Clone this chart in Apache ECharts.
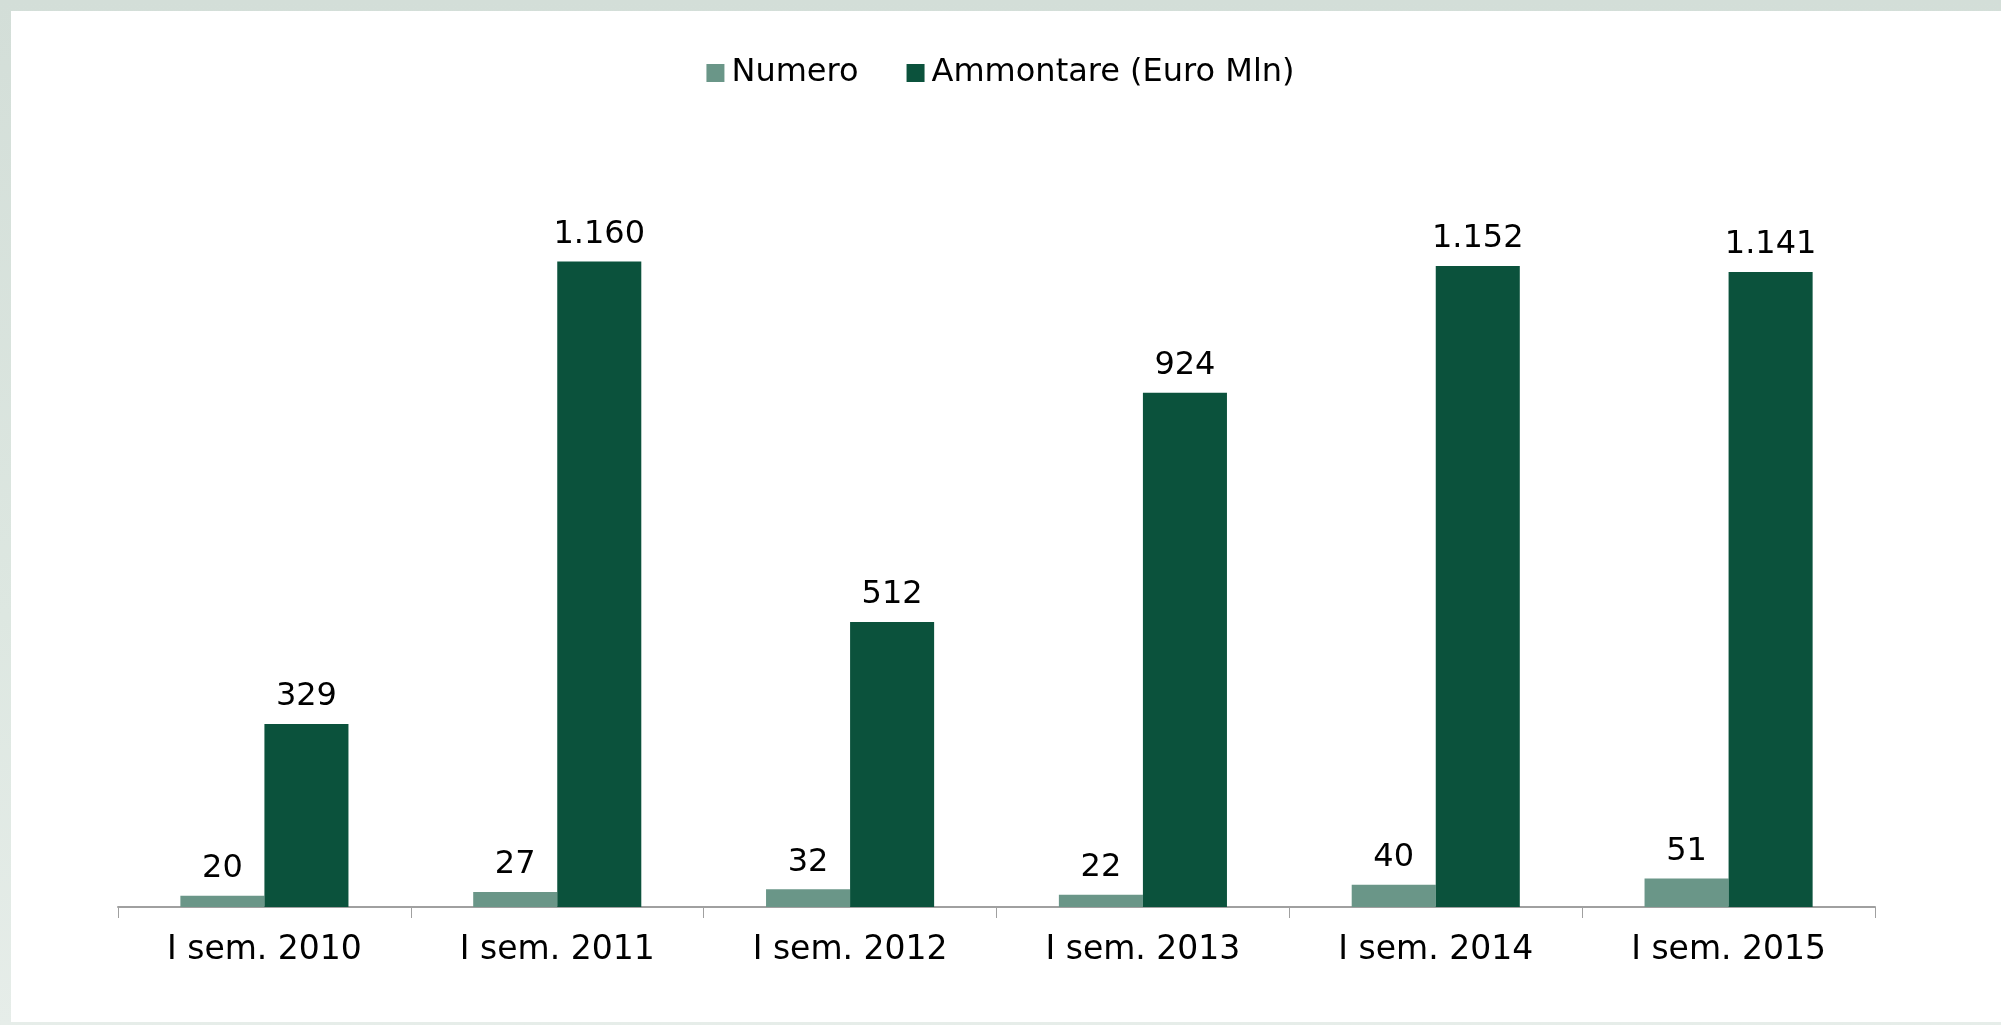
<!DOCTYPE html>
<html>
<head>
<meta charset="utf-8">
<script src="https://cdn.jsdelivr.net/npm/echarts@6/dist/echarts.min.js"></script>
<style>
	html, body {
		margin: 0;
		padding: 0;
		width: 2001px;
		height: 1025px;
		overflow: hidden;
		background: linear-gradient(180deg, #d3ded8 0%, #dde7e1 60%, #e6ede9 100%);
	}
	.panel {
		position: absolute;
		left: 11px;
		top: 11px;
		width: 1990px;
		height: 1011px;
		background: #ffffff;
	}
	#main {
		position: absolute;
		left: 0;
		top: 0;
		width: 2001px;
		height: 1025px;
	}
</style>
</head>
<body>
<div class="panel"></div>
<div id="main"></div>
<script>
	var categories = ['I sem. 2010', 'I sem. 2011', 'I sem. 2012', 'I sem. 2013', 'I sem. 2014', 'I sem. 2015'];
	var numero = [20, 27, 32, 22, 40, 51];
	var ammontare = [329, 1160, 512, 924, 1152, 1141];

	// thousands with a dot, like 1.160
	function itNum(v) {
		return String(v).replace(/\B(?=(\d{3})+(?!\d))/g, '.');
	}

	var chart = echarts.init(document.getElementById('main'));

	var labelStyle = {
		show: true,
		position: 'top',
		distance: 11,
		color: '#000000',
		fontFamily: 'DejaVu Sans',
		fontSize: 32,
		formatter: function (p) { return itNum(p.value); }
	};

	var option = {
		animation: false,
		backgroundColor: 'transparent',
		legend: {
			top: 52,
			left: 'center',
			itemWidth: 18,
			itemHeight: 18,
			itemGap: 48,
			icon: 'rect',
			textStyle: {
				fontFamily: 'DejaVu Sans',
				fontSize: 32,
				color: '#000000',
				padding: [0, 0, 0, 2]
			},
			data: ['Numero', 'Ammontare (Euro Mln)']
		},
		grid: {
			left: 118,
			right: 126,
			top: 128,
			bottom: 118
		},
		xAxis: {
			type: 'category',
			data: categories,
			axisLine: {
				lineStyle: { color: '#a0a0a0', width: 2 }
			},
			axisTick: {
				show: true,
				length: 11,
				lineStyle: { color: '#a0a0a0', width: 1 }
			},
			axisLabel: {
				color: '#000000',
				fontFamily: 'DejaVu Sans',
				fontSize: 33,
				margin: 27
			}
		},
		yAxis: {
			type: 'value',
			min: 0,
			max: 1400,
			show: false,
			splitLine: { show: false }
		},
		series: [
			{
				name: 'Numero',
				type: 'bar',
				data: numero,
				barGap: '0%',
				barCategoryGap: '42.6%',
				itemStyle: { color: '#6a9688' },
				label: labelStyle
			},
			{
				name: 'Ammontare (Euro Mln)',
				type: 'bar',
				data: ammontare,
				barGap: '0%',
				barCategoryGap: '42.6%',
				itemStyle: { color: '#0b523c' },
				label: labelStyle
			}
		]
	};

	chart.setOption(option);
</script>
</body>
</html>
